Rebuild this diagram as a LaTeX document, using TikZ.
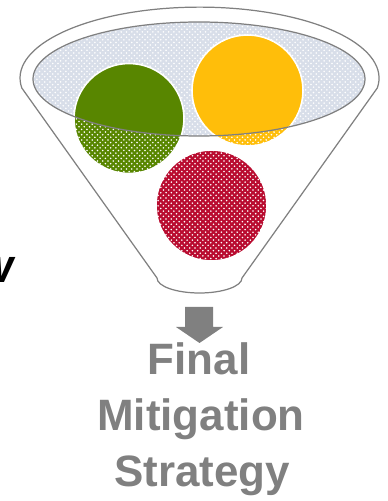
\documentclass[tikz,border=0pt]{standalone}
\usepackage{fontspec}
\setmainfont{Liberation Sans}
\usetikzlibrary{patterns}
\definecolor{leafgreen}{RGB}{88,134,0}
\definecolor{ambergold}{RGB}{255,190,10}
\definecolor{crimsonred}{RGB}{185,12,48}
\definecolor{rimgray}{RGB}{128,128,128}
\definecolor{mistblue}{RGB}{216,222,233}

\begin{document}
\begin{tikzpicture}[x=0.02cm, y=0.02cm,
    rim/.style={draw=rimgray, line width=0.7pt},
    ballrim/.style={draw=white, line width=0.9pt},
    speckle/.style={pattern=crosshatch dots, pattern color=white},
    stagetext/.style={text=rimgray, inner sep=0pt, anchor=base,
        font=\fontsize{25}{30}\selectfont\bfseries}]
    \useasboundingbox (0,0) rectangle (387,501);

    % Ball centres
    \coordinate (G) at (129,382.5);
    \coordinate (Y) at (247.5,410.5);
    \coordinate (R) at (211.5,295.5);

    % Funnel body
    \draw[rim, fill=white] (21.8,413)
        arc[start angle=188, end angle=-8, x radius=179.5, y radius=71]
        -- (242,223)
        arc[start angle=0, end angle=-180, x radius=42.5, y radius=15]
        -- cycle;

    % Mouth of the funnel
    \fill[mistblue] (199,422) ellipse [x radius=166, y radius=57];
    \path[speckle] (199,422) ellipse [x radius=166, y radius=57];

    % Balls, speckled where they sit below the rim
    \fill[leafgreen] (G) circle (55);
    \fill[ambergold] (Y) circle (55.5);
    \fill[crimsonred] (R) circle (55.5);
    \path[speckle] (G) circle (55);
    \path[speckle] (Y) circle (55.5);
    \path[speckle] (R) circle (55.5);

    % Solid parts inside the mouth
    \begin{scope}
        \clip (199,422) ellipse [x radius=166, y radius=57];
        \fill[leafgreen] (G) circle (55);
        \fill[ambergold] (Y) circle (55.5);
    \end{scope}
    \draw[ballrim] (G) circle (55);
    \draw[ballrim] (Y) circle (55.5);
    \draw[ballrim] (R) circle (55.5);

    % Rim of the mouth on top
    \draw[rim] (199,422) ellipse [x radius=166, y radius=57];

    % Block arrow out of the spout
    \fill[rimgray] (185,194) -- (213,194) -- (213,174) -- (223,174)
        -- (199.5,158) -- (176,174) -- (185,174) -- cycle;

    % Result text
    \node[stagetext] (final) at (199,126) {Final};
    \node[stagetext] (mitigation) at (201,71) {Mitigation};
    \node[stagetext] (strategy) at (202,14) {Strategy};

    % Word running in from the left
    \node[anchor=base east, inner sep=0pt,
        font=\fontsize{27}{27}\selectfont\bfseries\itshape] (review) at (14,218) {w};
\end{tikzpicture}
\end{document}
